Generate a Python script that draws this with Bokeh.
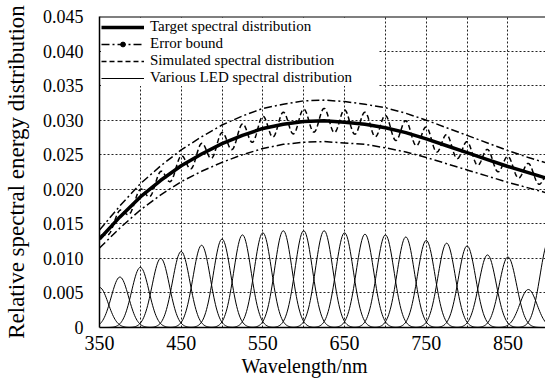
import numpy as np
from bokeh.plotting import figure
from bokeh.models import (FixedTicker, CustomJSTickFormatter, Legend, LegendItem,
                          Span, Title, Range1d)
from bokeh.embed import file_html
from bokeh.resources import INLINE

# ---------------- data ----------------
wavelength = [350, 375, 400, 425, 450, 475, 500, 525, 550, 575, 600, 625,
              650, 675, 700, 725, 750, 775, 800, 825, 850, 875, 900]
target = [0.0128, 0.0160, 0.0189, 0.0213, 0.0234, 0.0251, 0.0266, 0.0278,
          0.0288, 0.0294, 0.0298, 0.0299, 0.0297, 0.0294, 0.0289, 0.0282,
          0.0273, 0.0263, 0.0253, 0.0243, 0.0233, 0.0224, 0.0215]
upper_bound = [0.0141, 0.0176, 0.0208, 0.0234, 0.0257, 0.0276, 0.0293, 0.0306,
               0.0317, 0.0323, 0.0328, 0.0329, 0.0327, 0.0323, 0.0318, 0.0310,
               0.0300, 0.0289, 0.0278, 0.0267, 0.0256, 0.0246, 0.0237]
lower_bound = [0.0115, 0.0144, 0.0170, 0.0192, 0.0211, 0.0226, 0.0239, 0.0250,
               0.0259, 0.0265, 0.0268, 0.0269, 0.0267, 0.0265, 0.0260, 0.0254,
               0.0246, 0.0237, 0.0228, 0.0219, 0.0210, 0.0202, 0.0194]
# LED peak wavelengths and peak heights (thin curves)
led_peak = [350, 375, 400, 425, 450, 475, 500, 525, 550, 575, 600, 625,
            650, 675, 700, 725, 750, 775, 800, 825, 850, 875, 900]
led_height = [0.0058, 0.0073, 0.0087, 0.0100, 0.0110, 0.0119, 0.0128, 0.0134,
              0.0137, 0.0140, 0.0140, 0.0140, 0.0137, 0.0135, 0.0134, 0.0131,
              0.0126, 0.0122, 0.0118, 0.0105, 0.0102, 0.0055, 0.0125]
# LED weights used in the simulated (dashed) distribution
sim_weight = [0.0121, 0.0151, 0.0178, 0.0201, 0.0221, 0.0237, 0.0251, 0.0262,
              0.0272, 0.0277, 0.0281, 0.0282, 0.0280, 0.0277, 0.0273, 0.0266,
              0.0258, 0.0248, 0.0239, 0.0229, 0.0220, 0.0211, 0.0203]
led_fwhm = 25.0

x_label_ticks = [350, 450, 550, 650, 750, 850]
x_grid_ticks = [350, 400, 450, 500, 550, 600, 650, 700, 750, 800, 850, 900]
y_ticks = [0, 0.005, 0.010, 0.015, 0.020, 0.025, 0.030, 0.035, 0.040, 0.045]

FONT = "Liberation Serif"

# ---------------- figure ----------------
p = figure(width=545, height=378, output_backend="svg", toolbar_location=None,
           x_range=Range1d(350, 896), y_range=Range1d(0, 0.045),
           min_border_left=93, min_border_top=16, min_border_right=0,
           min_border_bottom=51)
p.outline_line_color = None
p.background_fill_color = "white"
p.border_fill_color = "white"

sigma = led_fwhm / 2.3548
wl_fine = np.arange(300.0, 951.0, 1.0)

# LED curves
xs, ys = [], []
for c, h in zip(led_peak, led_height):
    w = wl_fine[(wl_fine >= c - 45) & (wl_fine <= c + 45)]
    xs.append(list(w))
    ys.append(list(h * np.exp(-(w - c) ** 2 / (2 * sigma ** 2))))
r_led = p.multi_line(xs, ys, line_color="black", line_width=1)

# simulated distribution (weighted sum of LED shapes)
sim = np.zeros_like(wl_fine)
for c, wgt in zip(led_peak, sim_weight):
    sim += wgt * np.exp(-(wl_fine - c) ** 2 / (2 * sigma ** 2))
mask = (wl_fine >= 345) & (wl_fine <= 900)
r_sim = p.line(wl_fine[mask], sim[mask], line_color="black", line_width=1.5,
               line_dash="5 3")

# error bounds
r_ub = p.line(wavelength, upper_bound, line_color="black", line_width=1.5,
              line_dash="8 3 2 3")
p.line(wavelength, lower_bound, line_color="black", line_width=1.5,
       line_dash="8 3 2 3")
# marker used only for the legend symbol (placed outside the visible range)
r_dot = p.scatter(x=[200], y=[-1], marker="circle", size=5, color="black")

# target
r_tgt = p.line(wavelength, target, line_color="black", line_width=3.5)

# ---------------- axes & grid ----------------
p.xaxis.ticker = FixedTicker(ticks=x_label_ticks)
p.yaxis.ticker = FixedTicker(ticks=y_ticks)
p.yaxis.formatter = CustomJSTickFormatter(
    code="return tick == 0 ? '0' : tick.toFixed(3);")
p.xgrid.ticker = FixedTicker(ticks=x_grid_ticks)
p.ygrid.ticker = FixedTicker(ticks=y_ticks)
for g in (p.xgrid, p.ygrid):
    g.grid_line_color = "#222222"
    g.grid_line_dash = "2 2"
    g.grid_line_width = 1
    g.grid_line_alpha = 1

for ax in (p.xaxis, p.yaxis):
    ax.axis_line_color = "black"
    ax.axis_line_width = 1.5
    ax.major_tick_out = 0
    ax.major_tick_in = 0
    ax.minor_tick_out = 0
    ax.minor_tick_in = 0
    ax.major_label_text_font = FONT
    ax.major_label_text_color = "black"

p.xaxis.major_label_text_font_size = "20px"
p.xaxis.major_label_standoff = 8
p.yaxis.major_label_text_font_size = "18px"
p.yaxis.major_label_standoff = 16

p.yaxis.axis_label = "Relative spectral energy distribution"
p.yaxis.axis_label_text_font = FONT
p.yaxis.axis_label_text_font_size = "23px"
p.yaxis.axis_label_text_font_style = "normal"
p.yaxis.axis_label_text_color = "black"
p.yaxis.axis_label_standoff = 11

# x axis title (placed left of centre, as in the reference)
p.add_layout(Title(text="Wavelength/nm", align="left", offset=142,
                   text_font=FONT, text_font_size="20px",
                   text_font_style="normal", text_color="black",
                   standoff=0), "below")

# ---------------- legend ----------------
legend = Legend(items=[
    LegendItem(label="Target spectral distribution", renderers=[r_tgt]),
    LegendItem(label="Error bound", renderers=[r_ub, r_dot]),
    LegendItem(label="Simulated spectral distribution", renderers=[r_sim]),
    LegendItem(label="Various LED spectral distribution", renderers=[r_led]),
], location="top_left")
legend.margin = 2
legend.padding = 4
legend.spacing = 0
legend.label_height = 12
legend.glyph_height = 12
legend.glyph_width = 43
legend.label_width = 228
legend.label_standoff = 6
legend.label_text_font = FONT
legend.label_text_font_size = "15px"
legend.label_text_color = "black"
legend.border_line_color = None
legend.background_fill_color = "white"
legend.background_fill_alpha = 1
p.add_layout(legend)

# frame top border
p.add_layout(Span(location=0.045, dimension="width", line_color="black",
                  line_width=2, level="overlay"))

open("out.html", "w").write(file_html(p, INLINE))
